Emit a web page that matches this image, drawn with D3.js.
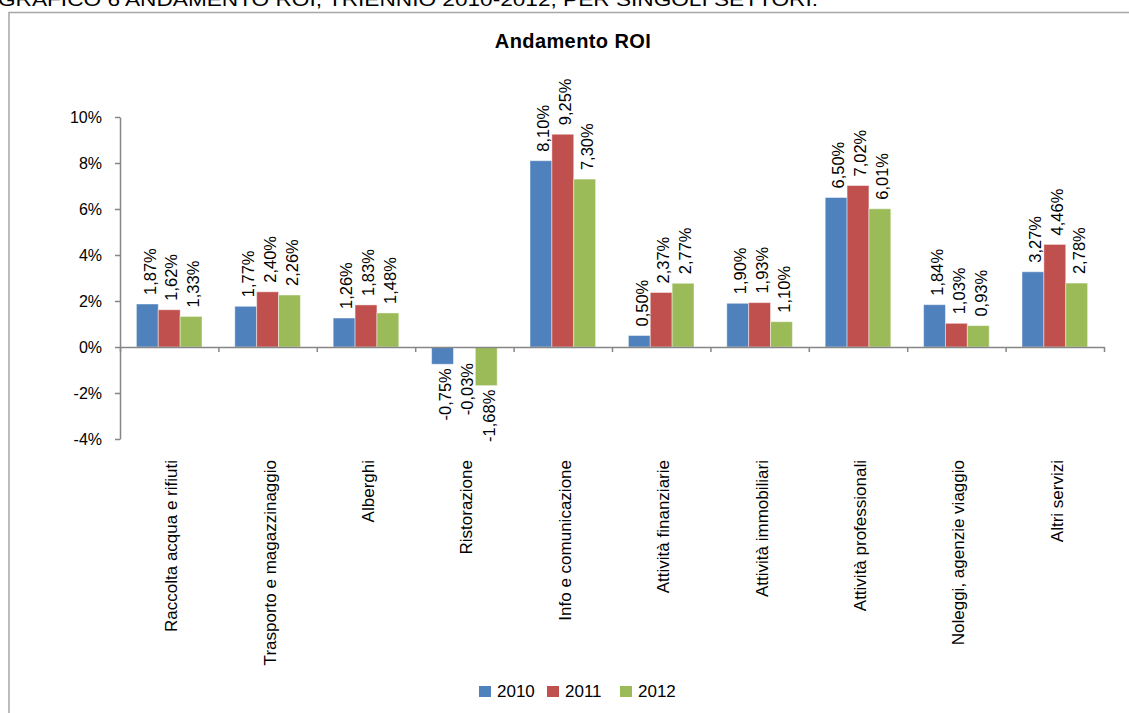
<!DOCTYPE html>
<html>
<head>
<meta charset="utf-8">
<script src="https://cdn.jsdelivr.net/npm/d3@7"></script>
<style>
  html, body { margin: 0; padding: 0; background: #fff; }
  svg { display: block; }
  text { font-family: "Liberation Sans", Arial, sans-serif; fill: #000; }
</style>
</head>
<body>
<svg id="chart" width="1129" height="713"></svg>
<script>
// Settori e valori ROI (%) per anno
const categories = [
  "Raccolta acqua e rifiuti",
  "Trasporto e magazzinaggio",
  "Alberghi",
  "Ristorazione",
  "Info e comunicazione",
  "Attività finanziarie",
  "Attività immobiliari",
  "Attività professionali",
  "Noleggi, agenzie viaggio",
  "Altri servizi"
];
const years = ["2010", "2011", "2012"];
const roi2010 = [1.87, 1.77, 1.26, -0.75, 8.10, 0.50, 1.90, 6.50, 1.84, 3.27];
const roi2011 = [1.62, 2.40, 1.83, -0.03, 9.25, 2.37, 1.93, 7.02, 1.03, 4.46];
const roi2012 = [1.33, 2.26, 1.48, -1.68, 7.30, 2.77, 1.10, 6.01, 0.93, 2.78];
const yTicks = [-4, -2, 0, 2, 4, 6, 8, 10];
const colors = ["#4F81BD", "#C0504D", "#9BBB59"];

const seriesValues = [roi2010, roi2011, roi2012];
const rows = categories.map((c, i) => ({
  cat: c,
  vals: years.map((yr, s) => ({ year: yr, s, v: seriesValues[s][i] }))
}));

const svg = d3.select("#chart");

// Intestazione del documento (tagliata in alto)
svg.append("text")
  .attr("x", -2).attr("y", 6)
  .attr("font-size", 19)
  .attr("textLength", 820)
  .attr("lengthAdjust", "spacingAndGlyphs")
  .text("GRAFICO 6 ANDAMENTO ROI, TRIENNIO 2010-2012, PER SINGOLI SETTORI.");

// Cornice del grafico
svg.append("path")
  .attr("d", "M9,713 V12.5 H1129")
  .attr("fill", "none")
  .attr("stroke", "#a6a6a6")
  .attr("stroke-width", 1.5);

// Titolo
svg.append("text")
  .attr("x", 573).attr("y", 48)
  .attr("text-anchor", "middle")
  .attr("font-weight", "bold")
  .attr("font-size", 20)
  .attr("letter-spacing", 0.4)
  .text("Andamento ROI");

const left = 120, right = 1104;
const y = d3.scaleLinear().domain([-4, 10]).range([439, 117]);
const x0 = d3.scaleBand().domain(categories).range([left, right]).padding(0);
const bw = x0.bandwidth();
const gap = bw * 1.5 / 4.5;
const x1 = d3.scaleBand().domain(years).range([gap / 2, bw - gap / 2]).padding(0);

const axisColor = "#868686";
const fmt = v => d3.format(".2f")(v).replace("\u2212", "-").replace(".", ",") + "%";

// Asse Y
const yAxis = svg.append("g")
  .attr("transform", `translate(${left},0)`)
  .call(d3.axisLeft(y).tickValues(yTicks).tickSize(5).tickSizeOuter(0).tickPadding(13)
    .tickFormat(d => String(d) + "%"));
yAxis.selectAll("path, line").attr("stroke", axisColor).attr("stroke-width", 1.5);
yAxis.selectAll("text").attr("font-size", 16).attr("font-family", "Liberation Sans, Arial, sans-serif").attr("fill", "#000");

// Barre
const groups = svg.append("g").selectAll("g")
  .data(rows).join("g")
  .attr("transform", d => `translate(${x0(d.cat)},0)`);

groups.selectAll("rect")
  .data(d => d.vals).join("rect")
  .attr("x", d => x1(d.year))
  .attr("width", x1.bandwidth())
  .attr("y", d => y(Math.max(0, d.v)))
  .attr("height", d => Math.abs(y(d.v) - y(0)))
  .attr("fill", d => colors[d.s])
  .attr("stroke", "#ffffff")
  .attr("stroke-opacity", 0.45)
  .attr("stroke-width", 1);

// Etichette dei valori (ruotate)
groups.selectAll("text")
  .data(d => d.vals).join("text")
  .attr("font-size", 16.5)
  .attr("transform", d => {
    const cx = x1(d.year) + x1.bandwidth() / 2 + 2.5;
    let yy;
    if (d.v >= 0) yy = y(d.v) - 9;
    else yy = Math.max(y(d.v), y(0) + 12) + 4;
    return `translate(${cx},${yy}) rotate(-90)`;
  })
  .attr("text-anchor", d => d.v >= 0 ? "start" : "end")
  .attr("dy", "0.35em")
  .text(d => fmt(d.v));

// Asse X sullo zero, con tacche ai confini delle categorie
const xb = d3.scaleLinear().domain([0, categories.length]).range([left, right]);
const xAxis = svg.append("g")
  .attr("transform", `translate(0,${y(0)})`)
  .call(d3.axisBottom(xb).tickValues(d3.range(0, categories.length + 1))
    .tickSize(5).tickSizeOuter(0).tickFormat(""));
xAxis.selectAll("path, line").attr("stroke", axisColor).attr("stroke-width", 1.5);

// Etichette delle categorie
svg.append("g").selectAll("text")
  .data(categories).join("text")
  .attr("font-size", 17)
  .attr("text-anchor", "end")
  .attr("dy", "0.35em")
  .attr("transform", d => `translate(${x0(d) + bw / 2 + 2},460) rotate(-90)`)
  .text(d => d);

// Legenda
const legendX = [479, 547, 620];
const legend = svg.append("g").selectAll("g")
  .data(years).join("g")
  .attr("transform", (d, i) => `translate(${legendX[i]},686)`);
legend.append("rect")
  .attr("width", 12).attr("height", 11)
  .attr("fill", (d, i) => colors[i]);
legend.append("text")
  .attr("x", 18).attr("y", 5.5)
  .attr("dy", "0.35em")
  .attr("font-size", 17)
  .text(d => d);
</script>
</body>
</html>
